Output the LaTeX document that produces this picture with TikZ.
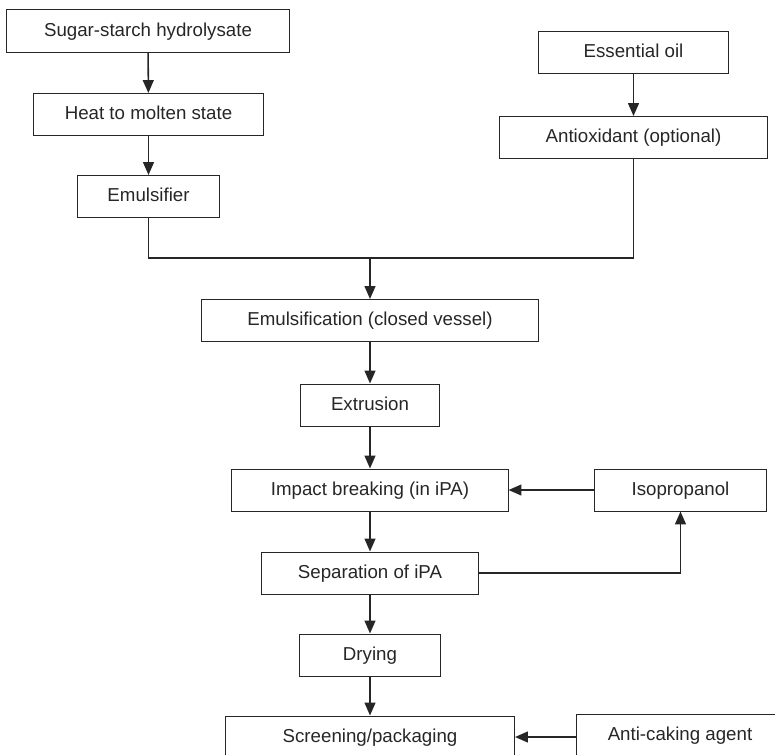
\documentclass[tikz,border=0pt]{standalone}
\usepackage{fontspec}
\setmainfont{Liberation Sans}
\usetikzlibrary{arrows.meta}

\begin{document}
\begin{tikzpicture}[
    x=0.025cm, y=-0.025cm,   % 1 unita = 1 pixel del riferimento
    passo/.style={draw=black!85, line width=0.7pt, minimum height=1.05cm, inner sep=0pt,
                  text height=1.38ex, text depth=0pt,
                  font=\fontsize{13.3}{16}\selectfont, text=black!85},
    freccia/.style={-{Triangle[length=3.2mm,width=2.7mm]}, line width=1.1pt, black!85},
    linea/.style={line width=1.1pt, black!85}
]

    % Riquadro della figura
    \useasboundingbox (0,0) rectangle (775,755);

    % =====================================================================
    % 1. Ramo sinistro: idrolizzato
    % =====================================================================
    \node[passo, minimum width=7.05cm]  (sugar) at (148,31)    {Sugar-starch hydrolysate};
    \node[passo, minimum width=5.725cm] (heat)  at (148.5,114.5) {Heat to molten state};
    \node[passo, minimum width=3.525cm] (emuls) at (148.5,196.5) {Emulsifier};

    \draw[freccia] (sugar) -- (heat);
    \draw[freccia] (heat) -- (emuls);

    % =====================================================================
    % 2. Ramo destro: olio essenziale
    % =====================================================================
    \node[passo, minimum width=4.725cm] (oil)    at (633.5,52.5) {Essential oil};
    \node[passo, minimum width=6.7cm]   (antiox) at (633.5,137.5) {Antioxidant (optional)};

    \draw[freccia] (oil) -- (antiox);

    % =====================================================================
    % 3. Linea centrale di processo
    % =====================================================================
    \coordinate (merge) at (370,258);

    \node[passo, minimum width=8.425cm] (emulsif) at (370,320.5) {Emulsification (closed vessel)};
    \node[passo, minimum width=3.45cm]  (extr)    at (370,405)   {Extrusion};
    \node[passo, minimum width=6.9cm]   (impact)  at (370,490)   {Impact breaking (in iPA)};
    \node[passo, minimum width=5.4cm]   (sep)     at (370,573)   {Separation of iPA};
    \node[passo, minimum width=3.525cm] (dry)     at (370,655)   {Drying};
    \node[passo, minimum width=7.225cm] (screen)  at (370,737)   {Screening/packaging};

    % Riunione dei due rami
    \draw[linea] (emuls.south) |- (merge) -| (antiox.south);
    \draw[freccia] (merge) -- (emulsif);

    \draw[freccia] (emulsif) -- (extr);
    \draw[freccia] (extr) -- (impact);
    \draw[freccia] (impact) -- (sep);
    \draw[freccia] (sep) -- (dry);
    \draw[freccia] (dry) -- (screen);

    % =====================================================================
    % 4. Ingressi laterali: solvente e antiagglomerante
    % =====================================================================
    \node[passo, minimum width=4.275cm] (isop) at (680.5,490) {Isopropanol};
    \node[passo, minimum width=5.15cm]  (anti) at (680,735)   {Anti-caking agent};

    \draw[freccia] (isop) -- (impact);
    \draw[freccia] (sep.east) -| (isop.south);
    \draw[freccia] (anti.west |- screen) -- (screen.east);

\end{tikzpicture}
\end{document}
